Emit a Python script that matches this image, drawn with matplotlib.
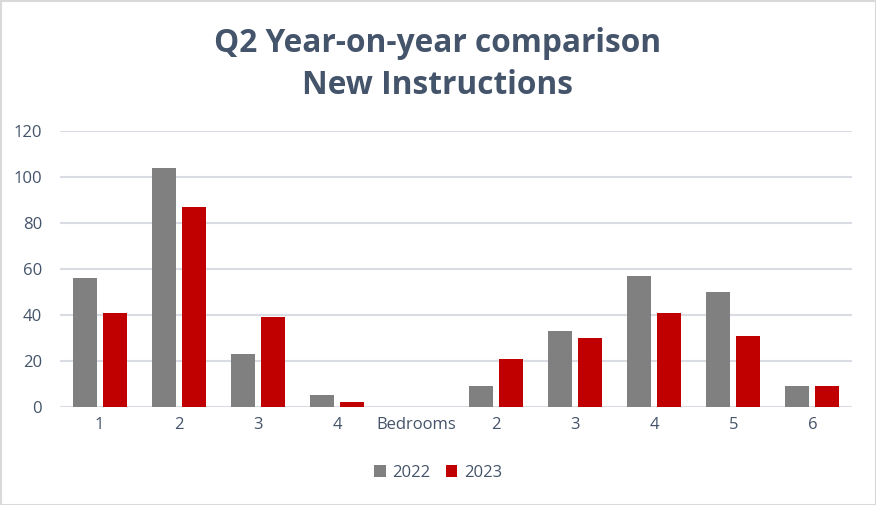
import matplotlib
matplotlib.use("Agg")
import matplotlib.pyplot as plt
from matplotlib.patches import Rectangle
import numpy as np

categories = ["1", "2", "3", "4", "Bedrooms", "2", "3", "4", "5", "6"]
values_2022 = [56, 104, 23, 5, 0, 9, 33, 57, 50, 9]
values_2023 = [41, 87, 39, 2, 0, 21, 30, 41, 31, 9]
series_names = ["2022", "2023"]
title_lines = ["Q2 Year-on-year comparison", "New Instructions"]
yticks = [0, 20, 40, 60, 80, 100, 120]

plt.rcParams['font.family'] = ['Open Sans', 'DejaVu Sans']
text_col = "#44546A"
grey = "#808080"
red = "#C00000"

fig = plt.figure(figsize=(8.76, 5.05), dpi=100)
ax = fig.add_axes([60/876, 1-407/505, (852-60)/876, (407-130.7)/505])

x = np.arange(len(categories))
w = 0.303
ax.bar(x - 0.19, values_2022, w, color=grey, label=series_names[0], zorder=3)
ax.bar(x + 0.19, values_2023, w, color=red, label=series_names[1], zorder=3)

ax.set_xlim(-0.5, len(categories) - 0.5)
ax.set_ylim(0, 120)
ax.set_yticks(yticks)
ax.set_xticks(x)
ax.set_xticklabels(categories)
ax.yaxis.grid(True, color="#D9DDE3", linewidth=1.5, zorder=0)
ax.set_axisbelow(True)
for s in ax.spines.values():
    s.set_visible(False)
ax.tick_params(axis='both', length=0, labelsize=12, colors=text_col, pad=7)
ax.tick_params(axis='y', pad=13)
for lab in ax.get_yticklabels() + ax.get_xticklabels():
    lab.set_color(text_col)

fig.text(0.5, 1-44/505, title_lines[0], ha='center', va='center', fontsize=22.8,
         fontweight='bold', color=text_col)
fig.text(0.5, 1-86/505, title_lines[1], ha='center', va='center', fontsize=22.8,
         fontweight='bold', color=text_col)

leg = fig.legend(loc='center', bbox_to_anchor=(0.5, 1-473/505), ncol=2, frameon=False,
                 fontsize=12, handlelength=0.7, handleheight=0.7, columnspacing=0.9,
                 handletextpad=0.4)
for t in leg.get_texts():
    t.set_color(text_col)

fig.patches.append(Rectangle((0.5/876, 0.5/505), 1-1/876, 1-1/505, transform=fig.transFigure,
                             fill=False, edgecolor="#D9D9D9", linewidth=1.5))

fig.savefig("out.png", dpi=100, facecolor="white")
